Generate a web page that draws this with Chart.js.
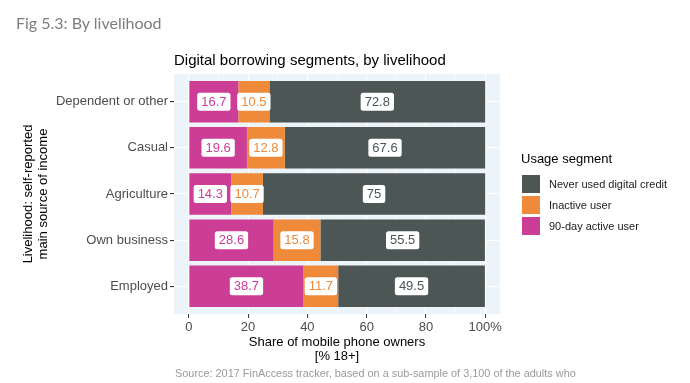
<!DOCTYPE html>
<html>
<head>
<meta charset="utf-8">
<script src="https://cdn.jsdelivr.net/npm/chart.js@4.4.1/dist/chart.umd.min.js"></script>
<style>
  html, body { margin: 0; padding: 0; background: #ffffff; }
  #wrap { position: relative; width: 690px; height: 383px; overflow: hidden; font-family: "Liberation Sans", Arial, sans-serif; }
  #c { position: absolute; left: 0; top: 0; }
  #fig { position: absolute; left: 16px; top: 13px; font-family: Lato, "Open Sans", sans-serif; font-size: 16px; color: #7d7d7d; white-space: nowrap; }
  #src { position: absolute; left: 175px; top: 367px; font-size: 10.9px; color: #9a9a9a; white-space: nowrap; line-height: 13px; }
  #legend { position: absolute; left: 521px; top: 150px; }
  #legend .ttl { font-size: 13px; color: #000; height: 18px; line-height: 18px; margin-bottom: 5px; white-space: nowrap; }
  #legend .row { display: flex; align-items: center; height: 21px; }
  #legend .key { width: 20px; height: 20px; margin-right: 8px; box-sizing: border-box; border: 0.5px solid #fff; }
  #legend .lab { font-size: 11px; color: #1a1a1a; white-space: nowrap; }
</style>
</head>
<body>
<div id="wrap">
  <canvas id="c" width="690" height="383"></canvas>
  <div id="fig">Fig 5.3: By livelihood</div>
  <div id="legend"></div>
  <div id="src">Source: 2017 FinAccess tracker, based on a sub-sample of 3,100 of the adults who</div>
</div>
<script>
// ---- data ----
const categories = ["Dependent or other", "Casual", "Agriculture", "Own business", "Employed"];
const seriesNames = ["90-day active user", "Inactive user", "Never used digital credit"];
const activeUser = [16.7, 19.6, 14.3, 28.6, 38.7];
const inactiveUser = [10.5, 12.8, 10.7, 15.8, 11.7];
const neverUsed = [72.8, 67.6, 75, 55.5, 49.5];
const xTickValues = [0, 10, 20, 30, 40, 50, 60, 70, 80, 90, 100];
const xTickLabels = {0: "0", 20: "20", 40: "40", 60: "60", 80: "80", 100: "100%"};

const colors = ["#CC3E96", "#EE8A3A", "#4B5655"];
const seriesValues = [activeUser, inactiveUser, neverUsed];

// legend (reversed order, as in the reference)
const legendEl = document.getElementById('legend');
legendEl.innerHTML = '<div class="ttl">Usage segment</div>' +
  [2, 1, 0].map(i => `<div class="row"><div class="key" style="background:${colors[i]}"></div><div class="lab">${seriesNames[i]}</div></div>`).join('');

const panelBg = {
  id: 'panelBg',
  beforeDraw(chart) {
    const a = chart.chartArea, ctx = chart.ctx;
    ctx.save();
    ctx.fillStyle = '#EDF4F9';
    ctx.fillRect(a.left, a.top, a.right - a.left, a.bottom - a.top);
    ctx.restore();
  }
};

const valueLabels = {
  id: 'valueLabels',
  afterDatasetsDraw(chart) {
    const ctx = chart.ctx;
    ctx.save();
    ctx.font = '13px "Liberation Sans", Arial, sans-serif';
    ctx.textAlign = 'center';
    ctx.textBaseline = 'middle';
    chart.data.datasets.forEach((ds, di) => {
      const meta = chart.getDatasetMeta(di);
      meta.data.forEach((bar, j) => {
        const v = seriesValues[di][j];
        const txt = String(v);
        const cx = (bar.x + bar.base) / 2;
        const cy = bar.y;
        const tw = ctx.measureText(txt).width;
        const w = tw + 8, h = 18;
        ctx.fillStyle = '#ffffff';
        ctx.beginPath();
        ctx.roundRect(cx - w / 2, cy - h / 2, w, h, 2.5);
        ctx.fill();
        ctx.fillStyle = colors[di];
        ctx.fillText(txt, cx, cy + 0.5);
      });
    });
    ctx.restore();
  }
};

const datasets = seriesValues.map((vals, di) => ({
  label: seriesNames[di],
  data: vals.map((v, i) => ({ x: v, y: i + 1 })),
  backgroundColor: colors[di],
  borderWidth: 0,
  barPercentage: 0.9,
  categoryPercentage: 1.0
}));

new Chart(document.getElementById('c'), {
  type: 'bar',
  data: { datasets },
  plugins: [panelBg, valueLabels],
  options: {
    indexAxis: 'y',
    responsive: false,
    animation: false,
    layout: { padding: { left: 0, right: 190, top: 52, bottom: 0 } },
    plugins: {
      legend: { display: false },
      tooltip: { enabled: false },
      title: {
        display: true,
        text: 'Digital borrowing segments, by livelihood',
        align: 'start',
        fullSize: false,
        color: '#000000',
        font: { family: '"Liberation Sans", Arial, sans-serif', size: 15, weight: 'normal', lineHeight: 1.2 },
        padding: { top: 0, bottom: 4 }
      }
    },
    scales: {
      x: {
        type: 'linear',
        stacked: true,
        offset: false,
        min: -5,
        max: 105,
        afterBuildTicks(scale) { scale.ticks = xTickValues.map(v => ({ value: v })); },
        afterFit(scale) { scale.height = 69; },
        border: { display: false },
        grid: {
          offset: false,
          color: '#ffffff',
          lineWidth: ctx => (ctx.tick && ctx.tick.value % 20 === 0) ? 1.1 : 0.55,
          tickColor: ctx => (ctx.tick && ctx.tick.value % 20 === 0) ? '#333333' : 'rgba(0,0,0,0)',
          tickLength: 4,
          tickWidth: 1,
          drawTicks: true
        },
        ticks: {
          autoSkip: false,
          maxRotation: 0,
          padding: 2,
          color: '#4D4D4D',
          font: { family: '"Liberation Sans", Arial, sans-serif', size: 13 },
          callback: v => (xTickLabels[v] !== undefined ? xTickLabels[v] : '')
        },
        title: {
          display: true,
          text: ['Share of mobile phone owners', '[% 18+]'],
          color: '#000000',
          font: { family: '"Liberation Sans", Arial, sans-serif', size: 13, lineHeight: 1.1 },
          padding: { top: 0, bottom: 19 }
        }
      },
      y: {
        type: 'linear',
        stacked: true,
        reverse: true,
        offset: false,
        min: 0.4,
        max: 5.6,
        afterBuildTicks(scale) { scale.ticks = categories.map((c, i) => ({ value: i + 1 })); },
        afterFit(scale) { scale.width = 174; },
        border: { display: false },
        grid: {
          offset: false,
          color: '#ffffff',
          lineWidth: 1.1,
          tickColor: '#333333',
          tickLength: 4,
          drawTicks: true
        },
        ticks: {
          autoSkip: false,
          padding: 2,
          color: '#4D4D4D',
          font: { family: '"Liberation Sans", Arial, sans-serif', size: 13 },
          callback: v => categories[v - 1] || ''
        },
        title: {
          display: true,
          text: ['Livelihood: self-reported', 'main source of income'],
          color: '#000000',
          font: { family: '"Liberation Sans", Arial, sans-serif', size: 13, lineHeight: 1.15 },
          padding: { top: 21, bottom: 0 }
        }
      }
    }
  }
});
</script>
</body>
</html>
